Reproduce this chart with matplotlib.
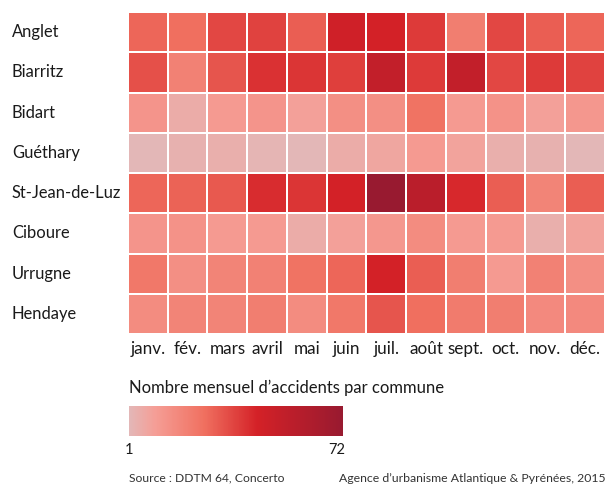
import matplotlib
matplotlib.use('Agg')
import matplotlib.pyplot as plt
import numpy as np
from matplotlib.colors import LinearSegmentedColormap, Normalize
from matplotlib.cm import ScalarMappable

plt.rcParams['font.family'] = ['Lato', 'DejaVu Sans']

communes = ['Anglet', 'Biarritz', 'Bidart', 'Guéthary', 'St-Jean-de-Luz',
            'Ciboure', 'Urrugne', 'Hendaye']
mois = ['janv.', 'fév.', 'mars', 'avril', 'mai', 'juin', 'juil.', 'août',
        'sept.', 'oct.', 'nov.', 'déc.']

anglet = [28, 26, 35, 36, 30, 46, 44, 38, 21, 35, 30, 28]
biarritz = [33, 20, 32, 40, 39, 37, 52, 38, 52, 35, 38, 36]
bidart = [13, 5, 11, 13, 9, 15, 15, 25, 11, 14, 9, 12]
guethary = [1, 3, 4, 2, 1, 5, 7, 11, 8, 4, 3, 1]
st_jean = [28, 29, 31, 41, 39, 44, 72, 56, 42, 30, 19, 30]
ciboure = [13, 14, 11, 11, 5, 9, 12, 16, 11, 11, 4, 8]
urrugne = [23, 15, 19, 20, 25, 28, 44, 30, 21, 11, 20, 15]
hendaye = [16, 19, 19, 21, 16, 23, 32, 26, 22, 21, 17, 17]

vmin, vmax = 1, 72

data = np.array([anglet, biarritz, bidart, guethary, st_jean, ciboure, urrugne, hendaye])

cmap = LinearSegmentedColormap.from_list('acc', [
    (0.0, '#e3b7b7'), (0.12, '#f59e96'), (0.35, '#f07060'),
    (0.6, '#d42127'), (1.0, '#981a30')])
norm = Normalize(vmin, vmax)

W, H = 607, 484
fig = plt.figure(figsize=(W / 100, H / 100), dpi=100)

def fx(px):
    return px / W

def fy(py):
    return 1 - py / H

ax = fig.add_axes([fx(128), fy(334), fx(605) - fx(128), fy(12) - fy(334)])
ax.pcolormesh(data, cmap=cmap, norm=norm, edgecolors='white', linewidth=1.2)
ax.set_xlim(0, 12)
ax.set_ylim(8, 0)
ax.axis('off')

for i, c in enumerate(communes):
    y = 12 + (i + 0.5) * (322 / 8)
    fig.text(fx(12), fy(y), c, fontsize=11.9, color='#1a1a1a', va='center', ha='left')

for j, m in enumerate(mois):
    x = 128 + (j + 0.5) * (477 / 12)
    fig.text(fx(x), fy(349), m, fontsize=12.3, color='#1a1a1a', va='center', ha='center')

fig.text(fx(129), fy(388), 'Nombre mensuel d\u2019accidents par commune', fontsize=12,
         color='#1a1a1a', va='center', ha='left')

cax = fig.add_axes([fx(129), fy(436), fx(343) - fx(129), fy(406) - fy(436)])
cb = fig.colorbar(ScalarMappable(norm=norm, cmap=cmap), cax=cax, orientation='horizontal')
cb.outline.set_visible(False)
cax.set_xticks([])
cax.set_yticks([])

fig.text(fx(129), fy(450), str(vmin), fontsize=10.5, color='#1a1a1a', va='center', ha='center')
fig.text(fx(337), fy(450), str(vmax), fontsize=10.5, color='#1a1a1a', va='center', ha='center')

fig.text(fx(129), fy(478), 'Source : DDTM 64, Concerto', fontsize=8.7, color='#333333',
         va='center', ha='left')
fig.text(fx(606), fy(478), 'Agence d\u2019urbanisme Atlantique & Pyrénées, 2015', fontsize=8.8,
         color='#333333', va='center', ha='right')

fig.savefig('out.png', dpi=100)
